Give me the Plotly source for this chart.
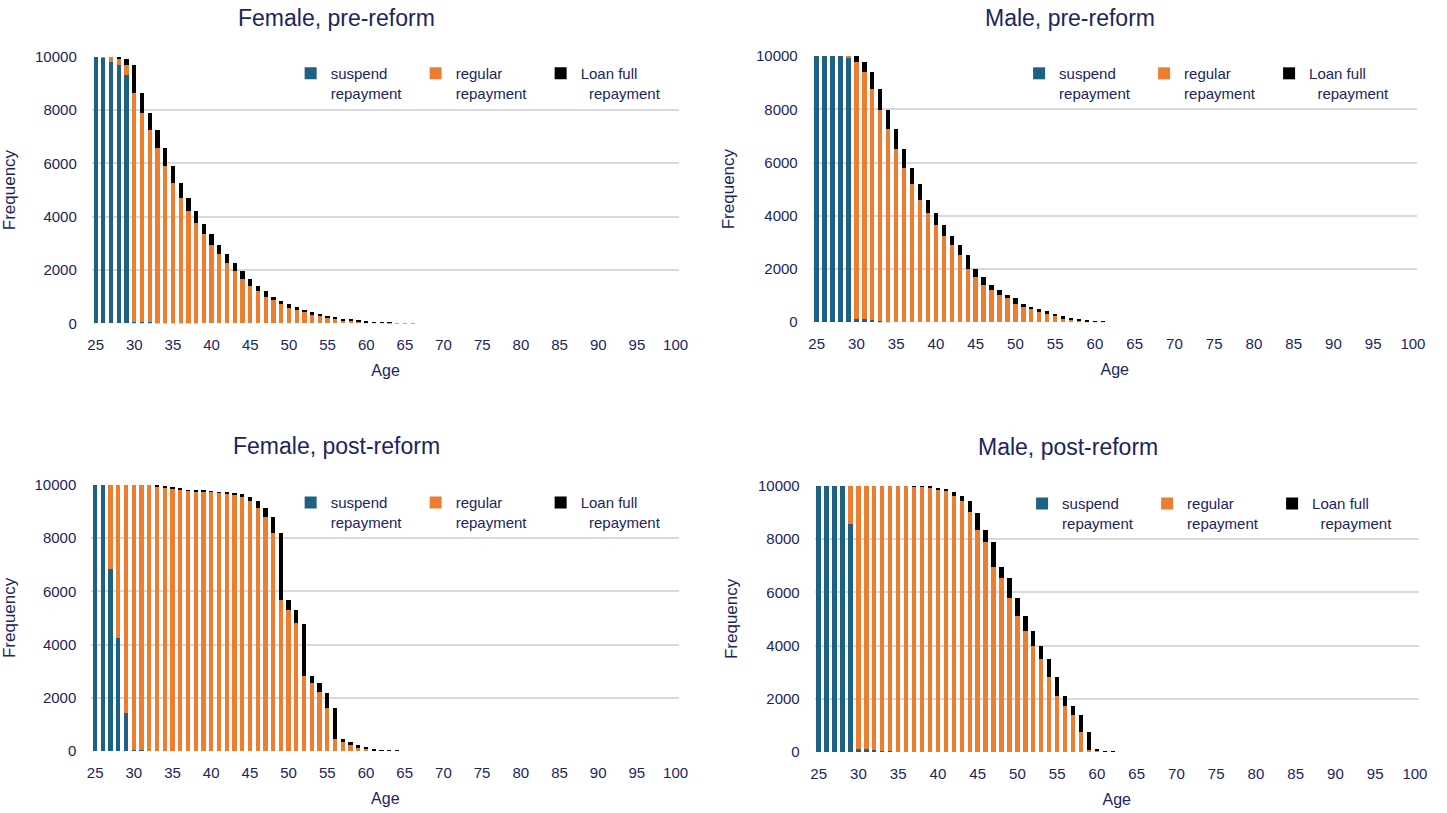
import plotly.graph_objects as go

# ---- data -------------------------------------------------------------
ages = list(range(25, 101))
tick_ages = list(range(25, 101, 5))
y_ticks = [0, 2000, 4000, 6000, 8000, 10000]

def pad(vals):
    """Extend a list of yearly counts with zeros up to age 100."""
    return vals + [0] * (len(ages) - len(vals))

# Female, pre-reform (ages 25..66)
fpre_suspend = pad([10000, 9990, 9800, 9700, 9330, 60, 50, 40, 30, 20, 15, 10, 10, 5])
fpre_regular = pad([0, 10, 200, 250, 380, 8570, 7850, 7210, 6540, 5880, 5255, 4700, 4210, 3745,
                    3350, 2950, 2600, 2260, 1970, 1650, 1410, 1200, 990, 860, 740, 590, 490, 410,
                    350, 275, 225, 175, 125, 100, 75, 50, 40, 30, 20, 15, 10, 6])
fpre_full = pad([0, 0, 0, 50, 200, 1080, 730, 640, 670, 670, 620, 560, 480, 470,
                 380, 400, 350, 340, 290, 320, 240, 210, 210, 130, 110, 130, 110, 90,
                 70, 85, 65, 60, 50, 35, 25, 25, 15, 10, 8, 5, 4, 3])

# Male, pre-reform (ages 25..61)
mpre_suspend = pad([10000, 10000, 10000, 10000, 9940, 100, 100, 80, 60, 20])
mpre_regular = pad([0, 0, 0, 0, 60, 9690, 9290, 8680, 7920, 7230, 6510, 5800, 5180, 4590,
                    4100, 3640, 3250, 2900, 2540, 1990, 1680, 1400, 1190, 1030, 890, 700, 560,
                    475, 410, 290, 240, 150, 90, 60, 35, 15, 5])
mpre_full = pad([0, 0, 0, 0, 0, 210, 400, 630, 780, 730, 740, 710, 620, 590,
                 490, 460, 390, 350, 360, 550, 310, 280, 210, 160, 140, 200, 140,
                 100, 65, 110, 50, 75, 50, 30, 15, 10, 5])

# Female, post-reform (ages 25..64)
fpost_suspend = pad([10000, 10000, 6850, 4250, 1410, 30, 40, 10])
fpost_regular = pad([0, 0, 3150, 5750, 8590, 9970, 9960, 9990, 9950, 9900, 9860, 9825, 9790, 9760,
                     9760, 9740, 9710, 9690, 9650, 9550, 9400, 9125, 8810, 8190, 5690, 5290, 4790,
                     2830, 2560, 2210, 1620, 450, 350, 210, 125, 60, 25, 15, 5, 3])
fpost_full = pad([0, 0, 0, 0, 0, 0, 0, 0, 50, 50, 40, 25, 20, 15,
                  15, 10, 15, 10, 40, 110, 150, 275, 330, 620, 2490, 400, 500,
                  1950, 270, 350, 570, 1160, 100, 140, 85, 75, 25, 15, 10, 2])

# Male, post-reform (ages 25..62)
mpost_suspend = pad([10000, 10000, 10000, 10000, 8550, 100, 100, 70, 40, 20])
mpost_regular = pad([0, 0, 0, 0, 1450, 9900, 9900, 9930, 9960, 9980, 10000, 10000, 9990, 9975,
                     9940, 9870, 9800, 9625, 9450, 9000, 8350, 7890, 6950, 6540, 5800, 5100,
                     4550, 4000, 3475, 2825, 2100, 1740, 1400, 760, 90, 40, 12, 0])
mpost_full = pad([0, 0, 0, 0, 0, 0, 0, 0, 0, 0, 0, 0, 10, 25,
                  35, 60, 90, 150, 175, 450, 640, 460, 940, 410, 740, 700,
                  550, 550, 525, 650, 725, 360, 340, 640, 670, 50, 28, 12])

panels = [
    ("Female, pre-reform", fpre_suspend, fpre_regular, fpre_full),
    ("Male, pre-reform", mpre_suspend, mpre_regular, mpre_full),
    ("Female, post-reform", fpost_suspend, fpost_regular, fpost_full),
    ("Male, post-reform", mpost_suspend, mpost_regular, mpost_full),
]

series_names = ["suspend<br>repayment", "regular<br>repayment",
                "Loan full<br>&nbsp;&nbsp;repayment"]
series_colors = ["#1d6285", "#ed7d31", "#000000"]

# ---- layout geometry -----------------------------------------------------
# Positions below are given in on-screen pixels.  The page adds an 8 px body
# margin around the 1447 x 813 figure and the whole page is shown scaled to
# the 1447 x 813 window, so screen positions are converted back to figure
# pixels before they become domain fractions.
W, H = 1447, 813
BODY_MARGIN = 8
SX = W / (W + 2 * BODY_MARGIN)
SY = H / (H + 2 * BODY_MARGIN)

def fx(px):
    return (px / SX - BODY_MARGIN) / W

def fy(py):
    return 1 - (py / SY - BODY_MARGIN) / H

plot_px = [  # left, right, top, bottom (screen pixels)
    (95.5, 682, 55.7, 322.7),
    (815, 1418, 55, 321.5),
    (95, 682, 484.5, 751),
    (817, 1420, 485.5, 752),
]
title_px = [(340, 17), (1072, 17), (340, 446), (1070, 447)]
legend_px = [(294, 56), (1021, 56), (294, 486), (1024, 487)]

NAVY = "#1b2461"
FONT = "Liberation Sans, Arial, sans-serif"
GRID = "#d9d9d9"

fig = go.Figure()

for i, (title, susp, reg, full) in enumerate(panels):
    n = i + 1
    xa = "x" if n == 1 else f"x{n}"
    ya = "y" if n == 1 else f"y{n}"
    lg = "legend" if n == 1 else f"legend{n}"
    for name, vals, col in zip(series_names, (susp, reg, full), series_colors):
        fig.add_trace(go.Bar(
            x=ages, y=vals, name=name, marker_color=col, marker_line_width=0,
            xaxis=xa, yaxis=ya, legend=lg,
        ))

    left, right, top, bottom = plot_px[i]
    xkey = "xaxis" if n == 1 else f"xaxis{n}"
    ykey = "yaxis" if n == 1 else f"yaxis{n}"
    fig.update_layout(**{
        xkey: dict(
            domain=[fx(left), fx(right)], anchor=ya,
            range=[24.5, 100.5], tickmode="array", tickvals=tick_ages,
            showgrid=False, zeroline=False, showline=False, ticks="",
            ticklabelstandoff=11,
            tickfont=dict(family=FONT, size=15, color=NAVY),
            title=dict(text="Age", standoff=12, font=dict(family=FONT, size=16, color=NAVY)),
        ),
        ykey: dict(
            domain=[fy(bottom), fy(top)], anchor=xa,
            range=[0, 10000], tickmode="array", tickvals=y_ticks, tickformat="d",
            showgrid=True, gridcolor=GRID, gridwidth=1.5,
            zeroline=False, showline=False, ticks="",
            ticklabelstandoff=14,
            tickfont=dict(family=FONT, size=15, color=NAVY),
            title=dict(text="Frequency", standoff=16, font=dict(family=FONT, size=17, color=NAVY)),
        ),
        lg: dict(
            orientation="h", x=fx(legend_px[i][0]), y=fy(legend_px[i][1]),
            xanchor="left", yanchor="top", valign="top",
            entrywidth=80, traceorder="normal",
            bgcolor="rgba(0,0,0,0)", borderwidth=0,
            font=dict(family=FONT, size=15, color=NAVY),
        ),
    })
    tx, ty = title_px[i]
    fig.add_annotation(
        text=title, x=fx(tx), y=fy(ty), xref="paper", yref="paper",
        xanchor="center", yanchor="middle", showarrow=False,
        font=dict(family=FONT, size=23, color=NAVY),
    )

fig.update_layout(
    width=W, height=H, margin=dict(l=0, r=0, t=0, b=0),
    barmode="stack", bargap=0.45,
    paper_bgcolor="white", plot_bgcolor="white",
    showlegend=True,
)

fig.write_html("out.html", config={"displayModeBar": False})
